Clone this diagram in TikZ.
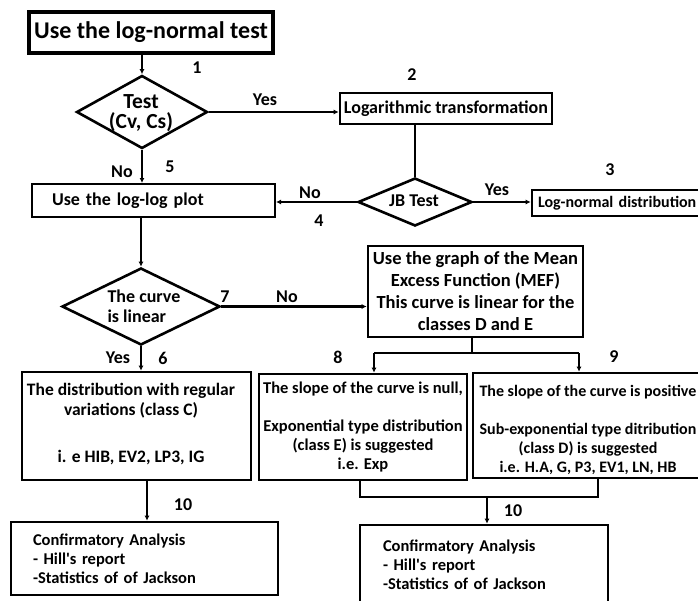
\documentclass[tikz,border=0pt]{standalone}
\usepackage{fontspec}
\setmainfont{Carlito}
\usetikzlibrary{arrows.meta,shapes.geometric}
\begin{document}
\begin{tikzpicture}[x=1pt,y=-1pt,
  line width=2.4pt,
  box/.style={draw, line width=2.6pt, inner sep=0pt, align=center, font=\bfseries\fontsize{16.5}{19}\selectfont},
  dia/.style={draw, diamond, line width=2.6pt, inner sep=0pt},
  dtext/.style={inner sep=0pt, align=center},
  lab/.style={font=\bfseries\fontsize{18}{19}\selectfont, inner sep=0pt},
  arr/.style={-{Latex[length=5pt,width=5pt]}}
]
\useasboundingbox (0,0) rectangle (698,600);
\clip (0,0) rectangle (698,600);
\node[box, line width=3.2pt, minimum width=244, minimum height=41, font=\bfseries\fontsize{24}{26}\selectfont] (title) at (151,32.5) {Use the log-normal test};
\node[dia, minimum width=131, minimum height=73] (d1) at (142,112) {};
\node[dtext, font=\bfseries\fontsize{21.5}{20}\selectfont] (d1t) at (141,113) {Test\\(Cv, Cs)};
\node[box, minimum width=212, minimum height=31, font=\bfseries\fontsize{18}{19}\selectfont] (logt) at (446,108.5) {Logarithmic transformation};
\node[dia, minimum width=114, minimum height=48] (jb) at (415,202) {};
\node[dtext, font=\bfseries\fontsize{18}{19}\selectfont] (jbt) at (414,201) {JB Test};
\node[box, minimum width=188, minimum height=26, text width=176, align=left, inner xsep=6, font=\bfseries\fontsize{16}{19}\selectfont] (lnd) at (626,203) {Log-normal distribution};
\node[box, line width=2pt, minimum width=243, minimum height=33, text width=203, align=left, inner xsep=20, font=\bfseries\fontsize{18}{19}\selectfont] (ll) at (153.5,200.5) {Use the log-log plot};
\node[dia, minimum width=158, minimum height=77] (d2) at (141,306.5) {};
\node[dtext, align=left, font=\bfseries\fontsize{18}{20}\selectfont] (d2t) at (144,306) {The curve\\is linear};
\node[box, minimum width=215, minimum height=91, font=\bfseries\fontsize{18.5}{22}\selectfont] (mef) at (475.5,291.5) {Use the graph of the Mean\\Excess Function (MEF)\\This curve is linear for the\\classes D and E};
\node[box, minimum width=229, minimum height=108, font=\bfseries\fontsize{17.5}{20}\selectfont] (cc) at (136.5,426) {};
\node[dtext, font=\bfseries\fontsize{17.5}{20}\selectfont] (cct) at (131,424) {The distribution with regular\\variations (class C)\\[27pt]i. e HIB, EV2, LP3, IG};
\node[box, minimum width=208, minimum height=106] (ce) at (363,427) {The slope of the curve is null,\\[19pt]Exponential type distribution\\(class E) is suggested\\i.e. Exp};
\node[box, minimum width=238, minimum height=105] (cd) at (592,425.5) {};
\node[dtext, font=\bfseries\fontsize{16}{19}\selectfont] (cdt) at (588,430) {The slope of the curve is positive\\[19pt]Sub-exponential type ditribution\\(class D) is suggested\\i.e. H.A, G, P3, EV1, LN, HB};
\node[box, minimum width=267, minimum height=73, text width=223, align=left, inner xsep=22] (cf1) at (144.5,558.5) {Confirmatory Analysis\\- Hill\textquotesingle s report\\-Statistics of of Jackson};
\node[box, minimum width=248, minimum height=80, text width=202, align=left, inner xsep=23] (cf2) at (484,565) {Confirmatory Analysis\\- Hill\textquotesingle s report\\-Statistics of of Jackson};
% connectors
\draw[arr] (title.south -| d1.north) -- (d1.north);
\draw[arr] (d1.east) -- (d1.east -| logt.west);
\draw (logt.south -| jb.north) -- (jb.north);
\draw[arr] (jb.east) -- (jb.east -| lnd.west);
\draw[arr] (jb.west) -- (jb.west -| ll.east);
\draw[arr] (d1.south) -- (d1.south |- ll.north);
\draw[arr] (ll.south -| d2.north) -- (d2.north);
\draw[arr] (d2.east) -- (d2.east -| mef.west);
\draw[arr] (d2.south) -- (d2.south |- cc.north);
\coordinate (c10) at (147,500);
\draw[arr] (cc.south -| c10) -- (c10 |- cf1.north);
\coordinate (sp) at (472,353);
\coordinate (sl) at (374,353);
\coordinate (sr) at (579,353);
\draw (mef.south -| sp) -- (sp);
\draw[arr] (sl) -- (sl |- ce.north);
\draw (sl) -- (sr);
\draw[arr] (sr) -- (sr |- cd.north);
\coordinate (jl) at (360,497);
\coordinate (jr) at (598,497);
\coordinate (jm) at (487,497);
\draw (jl |- ce.south) -- (jl) -- (jr) -- (jr |- cd.south);
\draw[arr] (jm) -- (jm |- cf2.north);
% labels
\node[lab] (n1) at (197,68) {1};
\node[lab] (y1) at (265,100) {Yes};
\node[lab] (n2) at (412,75) {2};
\node[lab] (n3) at (610,170) {3};
\node[lab] (y2) at (497,190) {Yes};
\node[lab] (no4) at (310,193) {No};
\node[lab] (n4) at (319,221) {4};
\node[lab] (no5) at (122,172) {No};
\node[lab] (n5) at (170,167) {5};
\node[lab] (n7) at (225,297) {7};
\node[lab] (no7) at (287,297) {No};
\node[lab] (y6) at (118,358) {Yes};
\node[lab] (n6) at (163,358) {6};
\node[lab] (n8) at (338,357) {8};
\node[lab] (n9) at (614,357) {9};
\node[lab] (n10a) at (183,505) {10};
\node[lab] (n10b) at (513,511) {10};
\end{tikzpicture}
\end{document}
